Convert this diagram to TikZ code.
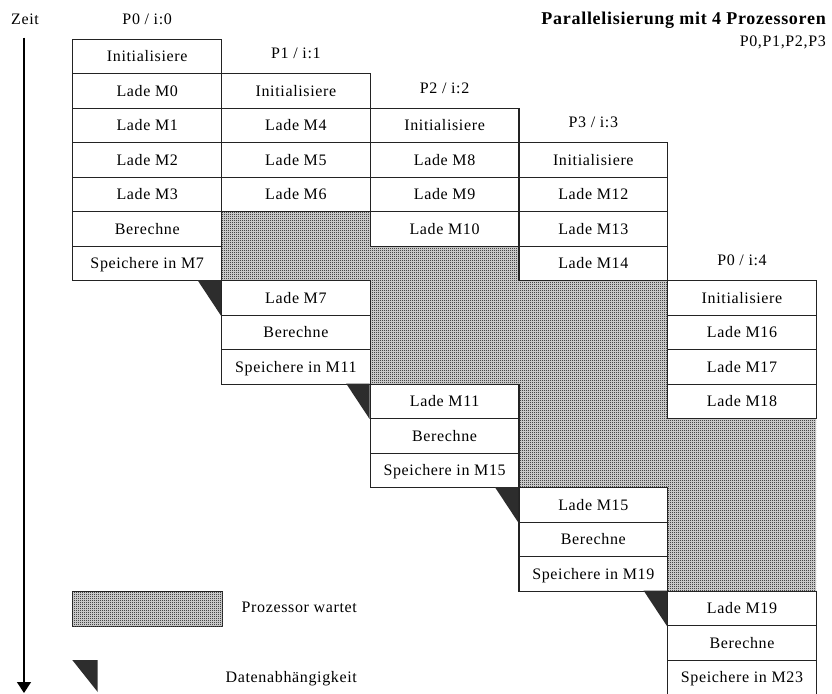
\documentclass[tikz,border=0pt]{standalone}
\usepackage{fontspec}
\setmainfont{Liberation Serif}[LetterSpace=4]
\usetikzlibrary{arrows.meta,calc,patterns}
\definecolor{waitgray}{RGB}{200,200,200}
\definecolor{stipple}{RGB}{70,70,70}
\definecolor{depblack}{RGB}{45,45,45}
\definecolor{gridline}{RGB}{35,35,35}

% fine stipple used for the waiting periods
\pgfdeclarepatternformonly{stipple}{\pgfpoint{-0.5pt}{-0.5pt}}{\pgfpoint{2.5pt}{2.5pt}}{\pgfpoint{2pt}{2pt}}{%
  \pgfpathrectangle{\pgfpointorigin}{\pgfpoint{1pt}{1pt}}\pgfusepath{fill}}

\begin{document}
\begin{tikzpicture}[x=1pt,y=-1pt,
  txt/.style={inner sep=0pt, text height=10.5pt, text depth=0pt,
    font=\fontsize{16}{19}\selectfont},
  cell/.style={txt, draw=gridline, line width=1.1pt, fill=white,
    minimum width=148.7pt, minimum height=34.5pt, anchor=north west},
  waitarea/.style={fill=waitgray, inner sep=0pt, minimum width=148.7pt,
    anchor=north west, postaction={pattern=stipple, pattern color=stipple}},
  dep/.style={fill=depblack},
  timeline/.style={line width=1.3pt, -{Triangle[width=14pt,length=11pt]}}]

\useasboundingbox (0,0) rectangle (832,693);

% time axis
\node[txt] (zeit) at (25,19) {Zeit};
\coordinate (tstart) at (24,37.7);
\coordinate (tend) at (24,693);
\draw[timeline] (tstart) -- (tend);

% title
\node[inner sep=0pt, anchor=east, text height=12pt, text depth=0pt,
  font=\fontsize{18}{21}\selectfont\bfseries] (title) at (826,19)
  {Parallelisierung mit 4 Prozessoren};
\node[txt, anchor=east] (procs) at (826,41) {P0,P1,P2,P3};

% waiting periods (no border, merge with each other)
\node[waitarea, minimum height=69pt]    (w1) at ({72.3+148.7*1},{38.6+34.5*5})  {};
\node[waitarea, minimum height=138pt]   (w2) at ({72.3+148.7*2},{38.6+34.5*6})  {};
\node[waitarea, minimum height=207pt]   (w3) at ({72.3+148.7*3},{38.6+34.5*7})  {};
\node[waitarea, minimum height=172.5pt] (w4) at ({72.3+148.7*4},{38.6+34.5*11}) {};

% work steps: column/row/text
\foreach \c/\r/\t in {
  0/0/Initialisiere, 0/1/Lade M0, 0/2/Lade M1, 0/3/Lade M2, 0/4/Lade M3,
  0/5/Berechne, 0/6/Speichere in M7,
  1/1/Initialisiere, 1/2/Lade M4, 1/3/Lade M5, 1/4/Lade M6,
  1/7/Lade M7, 1/8/Berechne, 1/9/Speichere in M11,
  2/2/Initialisiere, 2/3/Lade M8, 2/4/Lade M9, 2/5/Lade M10,
  2/10/Lade M11, 2/11/Berechne, 2/12/Speichere in M15,
  3/3/Initialisiere, 3/4/Lade M12, 3/5/Lade M13, 3/6/Lade M14,
  3/13/Lade M15, 3/14/Berechne, 3/15/Speichere in M19,
  4/7/Initialisiere, 4/8/Lade M16, 4/9/Lade M17, 4/10/Lade M18,
  4/16/Lade M19, 4/17/Berechne, 4/18/Speichere in M23}
  \node[cell] (c\c-\r) at ({72.3+148.7*\c},{38.6+34.5*\r}) {\t};

% column headings
\node[txt] (h0) at ($(c0-0.north)+(0,-19.6)$) {P0 / i:0};
\node[txt] (h1) at ($(c1-1.north)+(0,-19.6)$) {P1 / i:1};
\node[txt] (h2) at ($(c2-2.north)+(0,-19.6)$) {P2 / i:2};
\node[txt] (h3) at ($(c3-3.north)+(0,-19.6)$) {P3 / i:3};
\node[txt] (h4) at ($(c4-7.north)+(0,-19.6)$) {P0 / i:4};

% data dependencies
\foreach \c/\r in {1/7, 2/10, 3/13, 4/16}
  \fill[dep] ($(c\c-\r.north west)+(-23.5,0)$) -- (c\c-\r.north west)
    -- (c\c-\r.south west) -- cycle;

% legend
\node[waitarea, draw=gridline, line width=0.8pt, minimum width=150pt,
  minimum height=35pt] (legwait) at (72.3,591) {};
\node[txt, anchor=east] (legwaittext) at (357,607) {Prozessor wartet};
\coordinate (legdep) at (97.7,660);
\fill[dep] ($(legdep)+(-25.4,0)$) -- (legdep) -- ($(legdep)+(0,32)$) -- cycle;
\node[txt, anchor=east] (legdeptext) at (357,677) {Datenabhängigkeit};

\end{tikzpicture}
\end{document}
